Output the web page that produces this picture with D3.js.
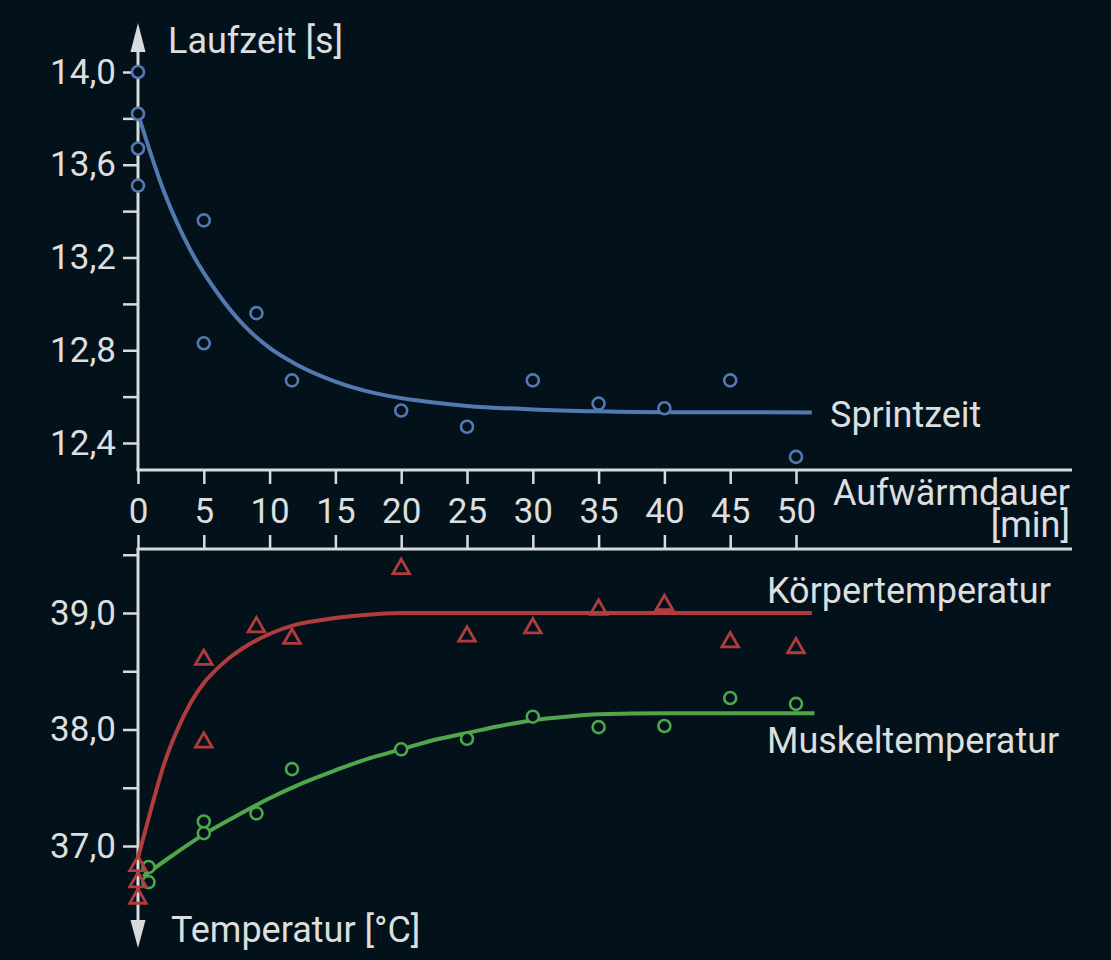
<!DOCTYPE html>
<html>
<head>
<meta charset="utf-8">
<script src="https://cdn.jsdelivr.net/npm/d3@7"></script>
<style>
  html, body { margin: 0; padding: 0; background: #03121a; }
  svg { display: block; }
  text { font-family: Roboto, "Noto Sans", sans-serif; fill: #dcdedf; }
</style>
</head>
<body>
<div id="chart"></div>
<script>
// Sprintzeit (measured points)
var sprintMin = [0, 0, 0, 0, 5, 5, 9, 11.7, 20, 25, 30, 35, 40, 45, 50];
var sprintSec = [14.0, 13.82, 13.67, 13.51, 13.36, 12.83, 12.96, 12.67, 12.54, 12.47, 12.67, 12.57, 12.55, 12.67, 12.34];
// Sprintzeit fitted curve
var sprintFitMin = [0, 2, 4, 6, 8, 10, 12, 15, 18, 21, 25, 30, 35, 40, 51.2];
var sprintFitSec = [13.82, 13.48, 13.23, 13.05, 12.91, 12.81, 12.74, 12.665, 12.615, 12.585, 12.56, 12.545, 12.537, 12.533, 12.532];

// Koerpertemperatur (triangles)
var bodyMin = [0, 0, 0, 5, 5, 9, 11.7, 20, 25, 30, 35, 40, 45, 50];
var bodyTemp = [36.83, 36.69, 36.55, 38.60, 37.89, 38.88, 38.78, 39.38, 38.80, 38.87, 39.03, 39.07, 38.75, 38.70];
var bodyFitMin = [0, 1, 2, 3, 4, 5, 6, 7, 8, 10, 12, 14, 17, 20, 30, 51.2];
var bodyFitTemp = [36.9, 37.32, 37.71, 38.0, 38.23, 38.4, 38.52, 38.62, 38.70, 38.82, 38.90, 38.94, 38.98, 39.0, 39.0, 39.0];

// Muskeltemperatur (circles)
var muscleMin = [0.8, 0.8, 5, 5, 9, 11.7, 20, 25, 30, 35, 40, 45, 50];
var muscleTemp = [36.82, 36.69, 37.21, 37.11, 37.28, 37.66, 37.83, 37.92, 38.11, 38.02, 38.03, 38.27, 38.22];
var muscleFitMin = [0.4, 2.5, 5, 7.5, 10, 12.5, 15, 17.5, 20, 22.5, 25, 27.5, 30, 32.5, 35, 40, 51.4];
var muscleFitTemp = [36.74, 36.91, 37.10, 37.26, 37.41, 37.54, 37.65, 37.75, 37.83, 37.91, 37.97, 38.03, 38.08, 38.11, 38.13, 38.14, 38.14];

var xTicks = [0, 5, 10, 15, 20, 25, 30, 35, 40, 45, 50];
var sprintTicks = [12.4, 12.6, 12.8, 13.0, 13.2, 13.4, 13.6, 13.8, 14.0];
var sprintLabels = [12.4, 12.8, 13.2, 13.6, 14.0];
var tempTicks = [37.0, 37.5, 38.0, 38.5, 39.0, 39.5];
var tempLabels = [37.0, 38.0, 39.0];

var width = 1111, height = 960;
var axisColor = "#d9dadb";
var bg = "#03121a";
var blue = "#5279b0", red = "#b23b3e", green = "#4fa64b";

var svg = d3.select("#chart").append("svg")
    .attr("width", width)
    .attr("height", height);

var x = d3.scaleLinear().domain([0, 50]).range([138, 796]);
var yTop = d3.scaleLinear().domain([12.4, 14.0]).range([443, 72]);
var yBot = d3.scaleLinear().domain([37, 39]).range([846, 613]);

var axisTopY = 470, axisBotY = 549, axisRight = 1072;
var fmt = function(d) { return sprintLabels.concat(tempLabels).indexOf(d) >= 0 ? d3.format(".1f")(d).replace(".", ",") : ""; };

// y axes
function styleAxis(g) {
    g.select(".domain").remove();
    g.selectAll(".tick line").attr("stroke", axisColor).attr("stroke-width", 2.5);
    g.selectAll(".tick text").style("font-size", "35px").attr("fill", "#dcdedf");
}

svg.append("g")
    .attr("transform", "translate(" + x(0) + ",0)")
    .call(d3.axisLeft(yTop).tickValues(sprintTicks).tickSize(15).tickPadding(7).tickFormat(fmt))
    .call(styleAxis);

svg.append("g")
    .attr("transform", "translate(" + x(0) + ",0)")
    .call(d3.axisLeft(yBot).tickValues(tempTicks).tickSize(15).tickPadding(7).tickFormat(fmt))
    .call(styleAxis);

// x axes
svg.append("g")
    .attr("transform", "translate(0," + axisTopY + ")")
    .call(d3.axisBottom(x).tickValues(xTicks).tickSize(14).tickPadding(14).tickFormat(d3.format("d")))
    .call(styleAxis);

svg.append("g")
    .attr("transform", "translate(0," + axisBotY + ")")
    .call(d3.axisTop(x).tickValues(xTicks).tickSize(14).tickFormat(""))
    .call(styleAxis);

// axis lines
svg.append("line")
    .attr("x1", x(0)).attr("x2", x(0))
    .attr("y1", axisTopY).attr("y2", 50)
    .attr("stroke", axisColor).attr("stroke-width", 3);
svg.append("line")
    .attr("x1", x(0)).attr("x2", x(0))
    .attr("y1", axisBotY).attr("y2", 924)
    .attr("stroke", axisColor).attr("stroke-width", 3);
svg.append("line")
    .attr("x1", x(0) - 1.5).attr("x2", axisRight)
    .attr("y1", axisTopY).attr("y2", axisTopY)
    .attr("stroke", axisColor).attr("stroke-width", 3);
svg.append("line")
    .attr("x1", x(0) - 1.5).attr("x2", axisRight)
    .attr("y1", axisBotY).attr("y2", axisBotY)
    .attr("stroke", axisColor).attr("stroke-width", 3);

// arrow heads
svg.append("path")
    .attr("d", "M" + x(0) + ",23 L" + (x(0) + 7.5) + ",52 L" + (x(0) - 7.5) + ",52 Z")
    .attr("fill", axisColor);
svg.append("path")
    .attr("d", "M" + x(0) + ",948 L" + (x(0) + 7.5) + ",920 L" + (x(0) - 7.5) + ",920 Z")
    .attr("fill", axisColor);

// fitted curves
var zip = function(a, b) { return a.map(function(d, i) { return [d, b[i]]; }); };

function drawCurve(xs, ys, yScale, color) {
    var line = d3.line()
        .x(function(d) { return x(d[0]); })
        .y(function(d) { return yScale(d[1]); })
        .curve(d3.curveMonotoneX);
    svg.append("path")
        .datum(zip(xs, ys))
        .attr("d", line)
        .attr("fill", "none")
        .attr("stroke", color)
        .attr("stroke-width", 4)
        .attr("stroke-linecap", "butt");
}

drawCurve(sprintFitMin, sprintFitSec, yTop, blue);
drawCurve(bodyFitMin, bodyFitTemp, yBot, red);
drawCurve(muscleFitMin, muscleFitTemp, yBot, green);

// markers
function drawCircles(xs, ys, yScale, color) {
    svg.append("g").selectAll("circle")
        .data(zip(xs, ys))
        .enter().append("circle")
        .attr("cx", function(d) { return x(d[0]); })
        .attr("cy", function(d) { return yScale(d[1]); })
        .attr("r", 6)
        .attr("fill", bg)
        .attr("stroke", color)
        .attr("stroke-width", 2.6);
}

drawCircles(sprintMin, sprintSec, yTop, blue);
drawCircles(muscleMin, muscleTemp, yBot, green);

svg.append("g").selectAll("path")
    .data(zip(bodyMin, bodyTemp))
    .enter().append("path")
    .attr("d", d3.symbol().type(d3.symbolTriangle).size(120))
    .attr("transform", function(d) { return "translate(" + x(d[0]) + "," + yBot(d[1]) + ")"; })
    .attr("fill", "none")
    .attr("stroke", red)
    .attr("stroke-width", 2.8)
    .attr("stroke-linejoin", "miter");

// labels
function label(txt, px, py, anchor) {
    return svg.append("text")
        .attr("x", px).attr("y", py)
        .attr("text-anchor", anchor || "start")
        .style("font-size", "36px")
        .text(txt);
}

label("Laufzeit [s]", 168, 53);
label("Sprintzeit", 830, 427);
label("Körpertemperatur", 767, 603);
label("Muskeltemperatur", 767, 753);
label("Temperatur [°C]", 171, 942);

// two-line x axis title as one text element
var xTitle = label("", 1070, 505, "end");
xTitle.append("tspan").attr("x", 1070).attr("y", 505).text("Aufwärmdauer");
xTitle.append("tspan").attr("x", 1070).attr("y", 537).text("[min]");
</script>
</body>
</html>
